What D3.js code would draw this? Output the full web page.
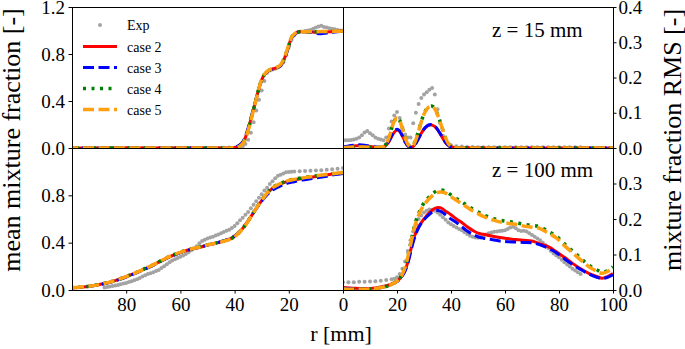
<!DOCTYPE html>
<html>
<head>
<meta charset="utf-8">
<script src="https://cdn.jsdelivr.net/npm/d3@7"></script>
<style>
  body { margin: 0; background: #fff; }
  svg, svg text { font-family: "Liberation Serif", "DejaVu Serif", serif; }
</style>
</head>
<body>
<div id="chart"></div>
<script>
/**
 * Data (r in mm)
 */

// z = 15 mm, mean mixture fraction
const rMean15 = [0,2,4,6,8,10,12,14,16,17,18,19,20,21,22,23,24,25,26,27,28,29,30,31,32,33,34,35,36,37,38,39,40,42,45,50,60,70,80,90,100]
const mean15Case2 = [0.995,0.993,0.99,0.988,0.985,0.985,0.988,0.99,0.99,0.985,0.965,0.94,0.87,0.8,0.74,0.705,0.688,0.68,0.672,0.664,0.65,0.625,0.58,0.51,0.42,0.33,0.245,0.16,0.09,0.045,0.025,0.012,0.004,0.001,0,0,0,0,0,0,0]
const mean15Case3 = [0.993,0.99,0.985,0.978,0.972,0.975,0.985,0.99,0.99,0.983,0.962,0.935,0.865,0.795,0.738,0.703,0.686,0.678,0.67,0.662,0.648,0.623,0.578,0.51,0.425,0.34,0.255,0.17,0.1,0.052,0.028,0.014,0.005,0.001,0,0,0,0,0,0,0]
const mean15Case4 = [0.995,0.994,0.992,0.99,0.99,0.99,0.99,0.99,0.99,0.985,0.968,0.94,0.875,0.805,0.745,0.708,0.69,0.682,0.674,0.665,0.652,0.627,0.582,0.51,0.42,0.33,0.24,0.155,0.085,0.04,0.018,0.007,0.002,0,0,0,0,0,0,0,0]
const mean15Case5 = [0.995,0.994,0.993,0.992,0.991,0.99,0.99,0.99,0.99,0.986,0.97,0.942,0.878,0.808,0.748,0.71,0.692,0.683,0.675,0.666,0.653,0.628,0.583,0.51,0.418,0.326,0.236,0.15,0.08,0.037,0.016,0.006,0.002,0,0,0,0,0,0,0,0]

// z = 15 mm, RMS
const rRms15 = [0,2,4,6,8,10,12,14,15,16,17,18,19,20,21,22,23,24,25,26,27,28,29,30,31,32,33,34,35,36,37,38,39,40,42,45,50,60,70,80,90,100]
const rms15Case2 = [0.002,0.004,0.006,0.007,0.006,0.004,0.002,0.002,0.003,0.008,0.018,0.032,0.045,0.051,0.047,0.034,0.018,0.006,0.002,0.004,0.014,0.028,0.042,0.053,0.061,0.065,0.065,0.061,0.052,0.04,0.027,0.015,0.007,0.003,0.001,0.001,0,0,0,0,0,0]
const rms15Case3 = [0.003,0.006,0.008,0.009,0.008,0.005,0.003,0.002,0.003,0.009,0.02,0.035,0.048,0.053,0.048,0.034,0.017,0.006,0.002,0.004,0.013,0.027,0.042,0.054,0.062,0.066,0.066,0.062,0.053,0.041,0.028,0.016,0.008,0.003,0.001,0.001,0,0,0,0,0,0]
const rms15Case4 = [0.001,0.002,0.003,0.003,0.003,0.002,0.001,0.002,0.004,0.012,0.03,0.055,0.077,0.086,0.078,0.055,0.03,0.011,0.004,0.008,0.025,0.05,0.075,0.097,0.111,0.118,0.119,0.112,0.096,0.074,0.05,0.028,0.013,0.005,0.001,0,0,0,0,0,0,0]
const rms15Case5 = [0.001,0.002,0.003,0.003,0.003,0.002,0.001,0.002,0.004,0.012,0.029,0.054,0.076,0.085,0.077,0.055,0.03,0.011,0.004,0.008,0.024,0.049,0.074,0.096,0.11,0.117,0.118,0.111,0.095,0.073,0.05,0.028,0.013,0.005,0.001,0,0,0,0,0,0,0]

// z = 15 mm, experiment
const rExp15 = [0,1,2,3,4,5,6,7,8,9,10,11,12,13,14,15,16,17,18,19,20,21,22,23,24,25,26,27,28,29,30,31,32,33,34,35,36,37,38,39,40,42,44,46,48,50,52,54,56,58,60,62,64,66,68,70,72,74,76,78,80,82,84,86,88]
const mean15Exp = [1.0,1.0,1.005,1.01,1.015,1.02,1.025,1.03,1.04,1.035,1.025,1.015,1.005,1.0,0.995,0.99,0.99,0.98,0.96,0.92,0.86,0.79,0.73,0.7,0.685,0.675,0.668,0.66,0.64,0.57,0.49,0.41,0.32,0.22,0.13,0.07,0.035,0.015,0.008,0.004,0.003,0.004,0.002,0.001,0,0,0,0,0,0,0,0,0,0,0,0,0,0,0,0,0,0,0,0,0]
const rms15Exp = [0.022,0.022,0.022,0.023,0.024,0.026,0.03,0.036,0.044,0.048,0.042,0.036,0.03,0.026,0.024,0.022,0.03,0.055,0.075,0.092,0.102,0.085,0.058,0.038,0.03,0.03,0.07,0.1,0.125,0.142,0.152,0.158,0.165,0.17,0.152,0.11,0.07,0.035,0.02,0.012,0.008,0.005,0.004,0.003,0.003,0.002,0.002,0.002,0.002,0.002,0.002,0.002,0.002,0.002,0.002,0.002,0.002,0.002,0.002,0.002,0.002,0.002,0.002,0.002,0.002]

// z = 100 mm, mean mixture fraction
const rMean100 = [0,3,6,9,12,15,18,20,22,24,26,28,30,32,34,36,38,40,42,44,47,50,53,56,59,62,65,68,71,74,77,80,83,86,89,92,95,98,100]
const mean100Case2 = [0.99,0.982,0.972,0.962,0.952,0.942,0.93,0.92,0.905,0.885,0.86,0.815,0.755,0.69,0.62,0.55,0.495,0.455,0.43,0.415,0.395,0.38,0.36,0.345,0.325,0.3,0.27,0.235,0.2,0.17,0.14,0.112,0.088,0.066,0.05,0.037,0.028,0.022,0.02]
const mean100Case3 = [0.985,0.975,0.962,0.95,0.94,0.93,0.915,0.905,0.89,0.87,0.845,0.805,0.75,0.688,0.62,0.552,0.497,0.457,0.432,0.416,0.396,0.38,0.36,0.344,0.324,0.298,0.268,0.233,0.198,0.168,0.138,0.11,0.086,0.065,0.049,0.036,0.027,0.021,0.019]
const mean100Case4 = [0.993,0.986,0.977,0.968,0.958,0.948,0.937,0.927,0.912,0.892,0.866,0.82,0.758,0.692,0.62,0.55,0.493,0.452,0.428,0.414,0.396,0.382,0.363,0.348,0.328,0.303,0.273,0.238,0.203,0.172,0.142,0.114,0.09,0.068,0.051,0.038,0.028,0.022,0.02]
const mean100Case5 = [0.992,0.985,0.976,0.967,0.957,0.947,0.935,0.925,0.91,0.89,0.864,0.818,0.757,0.69,0.618,0.548,0.492,0.45,0.426,0.412,0.395,0.381,0.362,0.347,0.327,0.302,0.272,0.237,0.202,0.171,0.141,0.113,0.089,0.067,0.05,0.037,0.028,0.022,0.02]

// z = 100 mm, RMS
const rRms100 = [0,4,8,12,16,18,20,21,22,23,24,25,26,27,28,29,30,32,34,36,38,40,42,44,46,48,50,52,55,58,61,64,67,70,73,76,79,82,85,88,91,94,96,98,100]
const rms100Case2 = [0.007,0.005,0.004,0.006,0.012,0.017,0.025,0.032,0.042,0.056,0.078,0.11,0.14,0.162,0.178,0.19,0.2,0.218,0.23,0.232,0.222,0.212,0.2,0.19,0.178,0.168,0.16,0.157,0.152,0.148,0.145,0.142,0.14,0.138,0.13,0.122,0.108,0.092,0.075,0.06,0.047,0.038,0.033,0.038,0.046]
const rms100Case3 = [0.005,0.003,0.002,0.004,0.01,0.016,0.024,0.03,0.04,0.054,0.075,0.105,0.135,0.158,0.175,0.188,0.198,0.213,0.224,0.222,0.212,0.2,0.19,0.178,0.166,0.157,0.15,0.146,0.142,0.138,0.136,0.135,0.134,0.133,0.127,0.118,0.105,0.088,0.072,0.058,0.045,0.036,0.032,0.036,0.043]
const rms100Case4 = [0.003,0.002,0.002,0.004,0.01,0.016,0.025,0.033,0.045,0.065,0.095,0.13,0.165,0.195,0.215,0.232,0.245,0.263,0.276,0.282,0.278,0.268,0.258,0.248,0.238,0.228,0.22,0.212,0.203,0.197,0.193,0.19,0.185,0.182,0.178,0.165,0.152,0.13,0.11,0.09,0.07,0.057,0.05,0.055,0.065]
const rms100Case5 = [0.003,0.002,0.002,0.004,0.01,0.016,0.025,0.033,0.045,0.064,0.093,0.127,0.161,0.19,0.21,0.227,0.24,0.258,0.271,0.276,0.273,0.263,0.253,0.243,0.233,0.223,0.215,0.207,0.198,0.192,0.188,0.185,0.18,0.177,0.173,0.16,0.147,0.125,0.105,0.085,0.066,0.053,0.047,0.052,0.062]

// z = 100 mm, experiment
const rExp100 = [0,2,4,6,8,10,12,14,16,18,19,20,21,22,23,24,25,26,27,28,29,30,31,32,33,34,35,36,37,38,39,40,41,42,43,44,45,46,47,48,49,50,51,52,53,54,55,56,57,58,59,60,61,62,63,64,65,66,67,68,69,70,71,72,73,74,75,76,77,78,79,80,81,82,83,84,85,86,87,88]
const mean100Exp = [1.03,1.025,1.02,1.016,1.013,1.01,1.008,1.006,1.004,1.002,1.0,0.998,0.995,0.985,0.975,0.965,0.945,0.92,0.895,0.865,0.84,0.81,0.78,0.75,0.72,0.69,0.66,0.635,0.61,0.59,0.565,0.54,0.525,0.51,0.5,0.49,0.48,0.47,0.46,0.45,0.443,0.435,0.425,0.415,0.395,0.37,0.35,0.335,0.32,0.305,0.292,0.28,0.27,0.26,0.25,0.235,0.218,0.2,0.185,0.17,0.16,0.15,0.142,0.135,0.125,0.115,0.102,0.09,0.082,0.075,0.067,0.06,0.054,0.048,0.043,0.038,0.034,0.03,0.026,0.022]
const rms100Exp = [0.022,0.022,0.022,0.023,0.023,0.024,0.025,0.026,0.028,0.03,0.032,0.036,0.045,0.06,0.08,0.11,0.14,0.165,0.185,0.2,0.21,0.218,0.223,0.227,0.226,0.223,0.218,0.212,0.205,0.198,0.19,0.185,0.18,0.176,0.172,0.168,0.163,0.158,0.153,0.15,0.148,0.147,0.148,0.152,0.156,0.16,0.162,0.164,0.165,0.166,0.167,0.168,0.172,0.176,0.178,0.174,0.168,0.166,0.167,0.165,0.16,0.155,0.15,0.145,0.14,0.133,0.126,0.118,0.11,0.103,0.097,0.092,0.085,0.078,0.072,0.066,0.06,0.055,0.05,0.045]

const caseNames = ["case 2", "case 3", "case 4", "case 5"]
const meanTicks = [0, 0.4, 0.8, 1.2]
const rmsTicks = [0, 0.1, 0.2, 0.3, 0.4]
const rTicksLeft = [80, 60, 40, 20]
const rTicksRight = [0, 20, 40, 60, 80, 100]

/**
 * Sizes
 */

const width = 685, height = 349
const box = { left: 72, mid: 343, right: 613, top: 7, center: 148, bottom: 290 }
const serif = "'Liberation Serif', 'DejaVu Serif', serif"

const caseStyle = [
    { color: "#ff0000", width: 3,   dash: null },
    { color: "#0000ff", width: 3,   dash: "11,4.5" },
    { color: "#008000", width: 3.5, dash: "3,5.5" },
    { color: "#ffa010", width: 3.5, dash: "11,4.5" }
]
const expColor = "#a3a3a3"

const svg = d3.select("#chart")
    .append("svg")
        .attr("width", width)
        .attr("height", height)
        .attr("font-family", serif)

// Scales
const xLeft = d3.scaleLinear().domain([100, 0]).range([box.left, box.mid])
const xRight = d3.scaleLinear().domain([0, 100]).range([box.mid, box.right])
const yMeanTop = d3.scaleLinear().domain([0, 1.2]).range([box.center, box.top])
const yMeanBot = d3.scaleLinear().domain([0, 1.2]).range([box.bottom, box.center])
const yRmsTop = d3.scaleLinear().domain([0, 0.4]).range([box.center, box.top])
const yRmsBot = d3.scaleLinear().domain([0, 0.4]).range([box.bottom, box.center])

const panels = [
    { id: "tl", x: xLeft, y: yMeanTop, r: rMean15, cases: [mean15Case2, mean15Case3, mean15Case4, mean15Case5], rExp: rExp15, exp: mean15Exp },
    { id: "tr", x: xRight, y: yRmsTop, r: rRms15, cases: [rms15Case2, rms15Case3, rms15Case4, rms15Case5], rExp: rExp15, exp: rms15Exp },
    { id: "bl", x: xLeft, y: yMeanBot, r: rMean100, cases: [mean100Case2, mean100Case3, mean100Case4, mean100Case5], rExp: rExp100, exp: mean100Exp },
    { id: "br", x: xRight, y: yRmsBot, r: rRms100, cases: [rms100Case2, rms100Case3, rms100Case4, rms100Case5], rExp: rExp100, exp: rms100Exp }
]

const defs = svg.append("defs")

panels.forEach(p => {
    const [x0, x1] = d3.extent(p.x.range())
    const [y0, y1] = d3.extent(p.y.range())
    defs.append("clipPath").attr("id", "clip-" + p.id)
        .append("rect")
            .attr("x", x0).attr("y", y0)
            .attr("width", x1 - x0).attr("height", y1 - y0)

    const g = svg.append("g").attr("clip-path", "url(#clip-" + p.id + ")")

    // experiment dots first
    g.append("g")
        .selectAll("circle")
        .data(p.rExp.map((r, i) => [r, p.exp[i]]))
        .enter()
        .append("circle")
            .attr("cx", d => p.x(d[0]))
            .attr("cy", d => p.y(d[1]))
            .attr("r", 2)
            .style("fill", expColor)

    const line = d3.line()
        .x(d => p.x(d[0]))
        .y(d => p.y(d[1]))
        .curve(d3.curveCatmullRom.alpha(0.5))

    p.cases.forEach((vals, k) => {
        const s = caseStyle[k]
        g.append("path")
            .datum(p.r.map((r, i) => [r, vals[i]]))
            .attr("d", line)
            .attr("fill", "none")
            .attr("stroke", s.color)
            .attr("stroke-width", s.width)
            .attr("stroke-dasharray", s.dash)
    })

    // frame
    svg.append("rect")
        .attr("x", x0 + 0.5).attr("y", y0 + 0.5)
        .attr("width", x1 - x0).attr("height", y1 - y0)
        .attr("fill", "none")
        .attr("stroke", "#000")
        .attr("stroke-width", 1)
})

/**
 * Axes
 */

function styleAxis(g, size) {
    g.select(".domain").remove()
    g.attr("font-family", serif).attr("font-size", size)
    g.selectAll("line").attr("stroke", "#000")
    g.selectAll("text").attr("fill", "#000")
}

const fmt = d3.format(".1f")

svg.append("g").attr("transform", "translate(" + box.left + ",0)")
    .call(d3.axisLeft(yMeanTop).tickValues(meanTicks).tickSize(3.5).tickPadding(3.5).tickFormat(fmt))
    .call(g => styleAxis(g, 19))
svg.append("g").attr("transform", "translate(" + box.left + ",0)")
    .call(d3.axisLeft(yMeanBot).tickValues(meanTicks.slice(0, 3)).tickSize(3.5).tickPadding(3.5).tickFormat(fmt))
    .call(g => styleAxis(g, 19))
svg.append("g").attr("transform", "translate(" + box.right + ",0)")
    .call(d3.axisRight(yRmsTop).tickValues(rmsTicks).tickSize(3.5).tickPadding(2).tickFormat(fmt))
    .call(g => styleAxis(g, 19))
svg.append("g").attr("transform", "translate(" + box.right + ",0)")
    .call(d3.axisRight(yRmsBot).tickValues(rmsTicks.slice(0, 4)).tickSize(3.5).tickPadding(2).tickFormat(fmt))
    .call(g => styleAxis(g, 19))
svg.append("g").attr("transform", "translate(0," + box.bottom + ")")
    .call(d3.axisBottom(xLeft).tickValues(rTicksLeft).tickSize(3.5).tickPadding(4))
    .call(g => styleAxis(g, 19))
svg.append("g").attr("transform", "translate(0," + box.bottom + ")")
    .call(d3.axisBottom(xRight).tickValues(rTicksRight).tickSize(3.5).tickPadding(4))
    .call(g => styleAxis(g, 19))

// Axis labels
svg.append("text")
    .attr("text-anchor", "middle")
    .attr("transform", "translate(20,140) rotate(-90)")
    .attr("font-size", 26)
    .text("mean mixture fraction [-]")

svg.append("text")
    .attr("text-anchor", "middle")
    .attr("transform", "translate(681,140) rotate(-90)")
    .attr("font-size", 26)
    .text("mixture fraction RMS [-]")

svg.append("text")
    .attr("text-anchor", "middle")
    .attr("x", 341)
    .attr("y", 341)
    .attr("font-size", 22)
    .text("r [mm]")

// Station labels
svg.append("text").attr("x", 492).attr("y", 37).attr("font-size", 21).text("z = 15 mm")
svg.append("text").attr("x", 492).attr("y", 177).attr("font-size", 21).text("z = 100 mm")

/**
 * Legend
 */

const legend = svg.append("g").attr("font-size", 14)
const rowY = [25, 46.5, 67.5, 88.5, 109.5]

legend.append("circle").attr("cx", 100).attr("cy", rowY[0]).attr("r", 2).style("fill", expColor)
legend.append("text").attr("x", 127).attr("y", rowY[0] + 5).text("Exp")

caseNames.forEach((name, k) => {
    const s = caseStyle[k]
    legend.append("line")
        .attr("x1", 83).attr("x2", 117)
        .attr("y1", rowY[k + 1]).attr("y2", rowY[k + 1])
        .attr("stroke", s.color)
        .attr("stroke-width", s.width)
        .attr("stroke-dasharray", s.dash)
    legend.append("text").attr("x", 127).attr("y", rowY[k + 1] + 5).text(name)
})
</script>
</body>
</html>
